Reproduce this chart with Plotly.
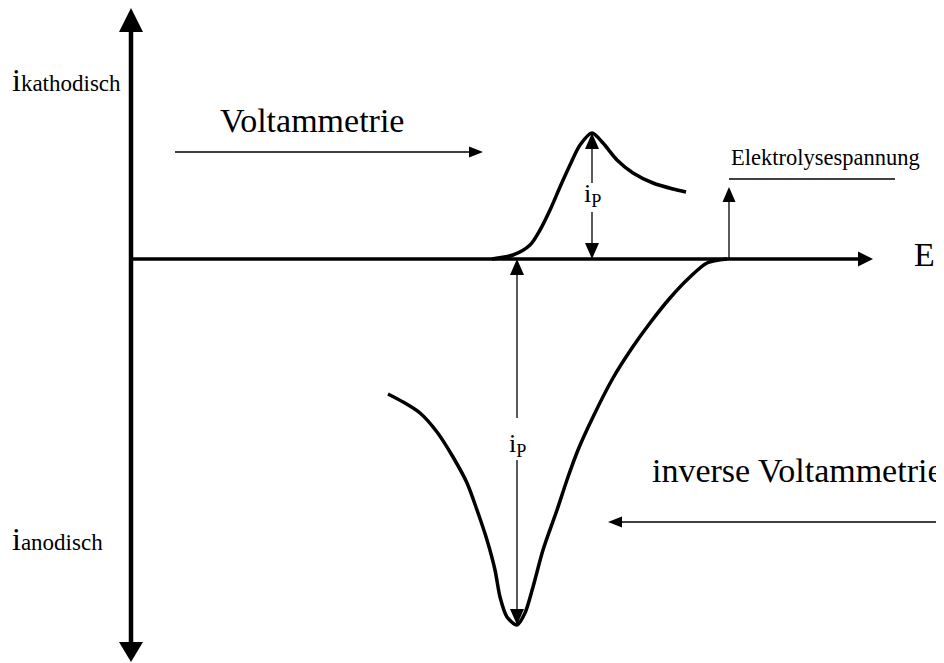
"""
Schematic: Voltammetrie vs. inverse Voltammetrie (current-potential curves).
"""
import plotly.graph_objects as go

# Curve points (E to the right, i_kathodisch up)
upper_E = [361, 382, 399, 409, 419, 429, 439, 449, 461, 472, 486, 502, 522, 542, 555]
upper_i = [0, 4, 14, 29, 49, 72, 94, 114, 126, 116, 99, 86, 76, 70, 67]

lower_E = [257, 272, 289, 306, 322, 336, 346, 356, 364, 369, 376, 386, 394, 402,
           412, 426, 437, 447, 462, 482, 501, 519, 539, 559, 576, 596]
lower_i = [-135, -143, -154, -173, -198, -224, -251, -281, -311, -338, -358, -366, -354, -328,
           -291, -251, -218, -191, -158, -119, -89, -64, -39, -18, -4, 0]

# Peak positions and the decomposition voltage
peak_up = (461, 126)
peak_down = (386, -366)
elektrolyse_E = 598

FONT = "Liberation Serif, Times New Roman, serif"

fig = go.Figure()

for xs, ys in [(upper_E, upper_i), (lower_E, lower_i)]:
    fig.add_trace(go.Scatter(x=xs, y=ys, mode="lines",
                             line=dict(color="black", width=3.5, shape="spline", smoothing=0.8),
                             hoverinfo="skip"))

shapes = []


def arrow(x0, y0, x1, y1, width=1.3, head_len=15, head_w=13):
    """Line from (x0, y0) to (x1, y1) with a filled triangle head at the end."""
    dx, dy = x1 - x0, y1 - y0
    n = (dx * dx + dy * dy) ** 0.5
    ux, uy = dx / n, dy / n
    bx, by = x1 - ux * head_len, y1 - uy * head_len
    px, py = -uy * head_w / 2, ux * head_w / 2
    shapes.append(dict(type="line", x0=x0, y0=y0, x1=bx, y1=by,
                       line=dict(color="black", width=width)))
    shapes.append(dict(type="path",
                       path=f"M {x1},{y1} L {bx + px},{by + py} L {bx - px},{by - py} Z",
                       fillcolor="black", line=dict(color="black", width=0)))


# axes
arrow(0, 0, 0, 251, width=4.5, head_len=24, head_w=24)
arrow(0, 0, 0, -403, width=4.5, head_len=20, head_w=24)
arrow(0, 0, 742, 0, width=3.5, head_len=15, head_w=15)

# scan direction arrows
arrow(44, 107, 352, 107, width=1.3, head_len=14, head_w=11)
arrow(813, -263, 477, -263, width=1.3, head_len=14, head_w=11)

# peak current markers (i_P)
px_, py_ = peak_up
arrow(px_, 76, px_, py_, head_len=16, head_w=14)
arrow(px_, 47, px_, 0, head_len=16, head_w=14)
px_, py_ = peak_down
arrow(px_, -159, px_, 0, head_len=16, head_w=14)
arrow(px_, -201, px_, py_, head_len=16, head_w=14)

# Elektrolysespannung
arrow(elektrolyse_E, 0, elektrolyse_E, 72, head_len=15, head_w=13)
shapes.append(dict(type="line", x0=elektrolyse_E, y0=80, x1=764, y1=80,
                   line=dict(color="black", width=1.3)))


def text(x, y, s, size, xanchor="center"):
    fig.add_annotation(x=x, y=y, text=s, showarrow=False, xanchor=xanchor, yanchor="middle",
                       font=dict(family=FONT, size=size, color="black"))


text(181, 139, "Voltammetrie", 34)
text(519, -211, "inverse Voltammetrie", 34, xanchor="left")
text(781, 5, "E", 34, xanchor="left")
text(598, 102, "Elektrolysespannung", 22.5, xanchor="left")
text(-121, 179, 'i<span style="font-size:23px">kathodisch</span>', 32, xanchor="left")
text(-121, -280, 'i<span style="font-size:23px">anodisch</span>', 32, xanchor="left")
text(peak_up[0], 64, "i<sub>P</sub>", 26)
text(peak_down[0], -186, "i<sub>P</sub>", 26)

# the page body has an 8px margin: the figure is shrunk by 8px so the page
# does not overflow, and the ranges are shifted to match
fig.update_layout(
    width=936, height=655,
    margin=dict(l=0, r=0, t=0, b=0),
    paper_bgcolor="white", plot_bgcolor="white",
    showlegend=False,
    shapes=shapes,
    xaxis=dict(range=[-123, 813], visible=False, fixedrange=True),
    yaxis=dict(range=[-404, 251], visible=False, fixedrange=True),
)

fig.write_html("out.html", config={"displayModeBar": False})
